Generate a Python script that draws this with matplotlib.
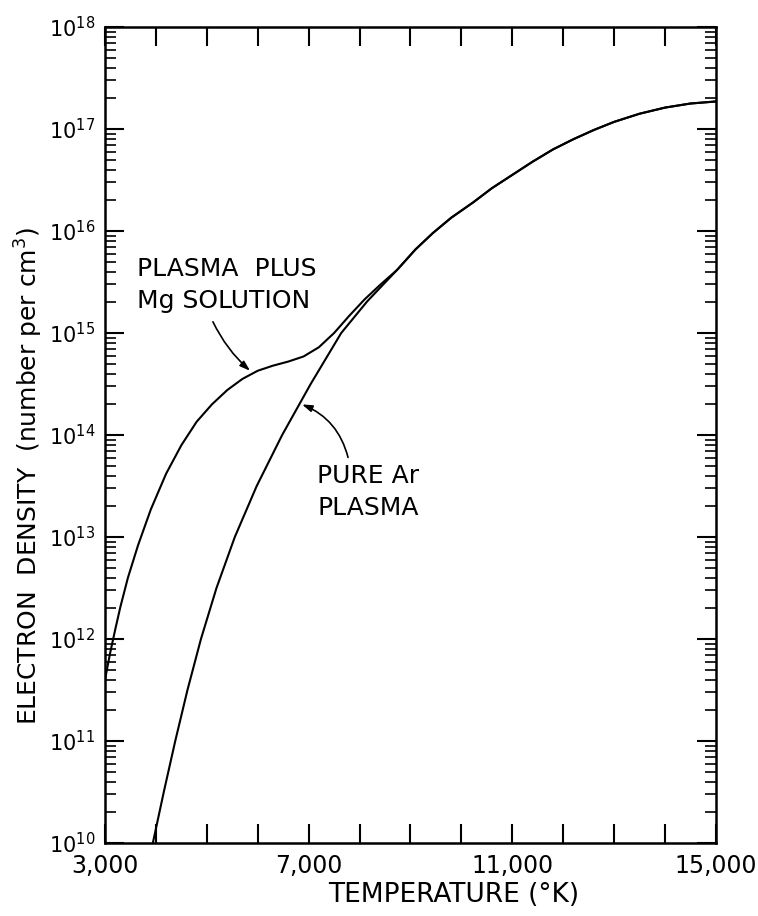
import numpy as np
import matplotlib
matplotlib.use("Agg")
import matplotlib.pyplot as plt
from matplotlib.ticker import LogLocator, FixedLocator, FixedFormatter, NullFormatter

# temperature (deg K) and log10 of electron density (per cm^3)
t_ar = [3940, 4155, 4380, 4620, 4885, 5190, 5550, 5980, 6480, 7040, 7640, 8150]
logn_ar = [10.0, 10.5, 11.0, 11.5, 12.0, 12.5, 13.0, 13.5, 14.0, 14.5, 15.0, 15.31]

t_mg = [3000, 3100, 3200, 3300, 3450, 3650, 3900, 4200, 4500, 4800, 5100,
        5400, 5700, 6000, 6300, 6600, 6900, 7200, 7500, 7800, 8100, 8400]
logn_mg = [11.60, 11.86, 12.09, 12.31, 12.60, 12.92, 13.27, 13.62, 13.90,
           14.13, 14.30, 14.44, 14.55, 14.63, 14.68, 14.72, 14.77, 14.86,
           15.00, 15.17, 15.33, 15.47]

# above ~8,700 K both curves coincide
t_common = [8740, 9100, 9440, 9800, 10230, 10600, 11000, 11400, 11800, 12200,
            12600, 13000, 13500, 14000, 14500, 15000]
logn_common = [15.62, 15.82, 15.98, 16.13, 16.28, 16.42, 16.55, 16.68, 16.80,
               16.90, 16.99, 17.07, 17.15, 17.21, 17.25, 17.27]

x_ticks = [3000, 4000, 5000, 6000, 7000, 8000, 9000, 10000, 11000, 12000,
           13000, 14000, 15000]
x_labels = ["3,000", "", "", "", "7,000", "", "", "", "11,000", "", "", "",
            "15,000"]

fig = plt.figure(figsize=(7.58, 9.16), dpi=100)
ax = fig.add_axes([0.1385, 0.0797, 0.806, 0.8908])

ax.plot(t_ar + t_common, 10 ** np.array(logn_ar + logn_common), color="black", lw=1.5)
ax.plot(t_mg + t_common, 10 ** np.array(logn_mg + logn_common), color="black", lw=1.5)

ax.set_yscale("log")
ax.set_xlim(3000, 15000)
ax.set_ylim(1e10, 1e18)

ax.xaxis.set_major_locator(FixedLocator(x_ticks))
ax.xaxis.set_major_formatter(FixedFormatter(x_labels))
ax.yaxis.set_major_locator(LogLocator(base=10, numticks=20))
ax.yaxis.set_minor_locator(LogLocator(base=10, subs=np.arange(2, 10), numticks=20))
ax.yaxis.set_minor_formatter(NullFormatter())

ax.tick_params(which="both", direction="in", top=True, right=True, width=1.5)
ax.tick_params(which="major", length=14)
ax.tick_params(axis="x", which="major", pad=8, labelsize=17)
ax.tick_params(axis="y", which="major", pad=7, labelsize=15)
ax.tick_params(which="minor", length=8, width=1.2)
for s in ax.spines.values():
    s.set_linewidth(1.8)

ax.set_xlabel("TEMPERATURE (\u00b0K)", fontsize=19)
ax.xaxis.set_label_coords(0.57, -0.048)
ax.set_ylabel("ELECTRON  DENSITY  (number per cm$^3$)", fontsize=18)
ax.yaxis.set_label_coords(-0.098, 0.45)

arrow = dict(arrowstyle="-|>,head_length=0.6,head_width=0.2", color="black",
             lw=1.2, shrinkA=0, shrinkB=0)

ax.text(3630, 10 ** 15.47, "PLASMA  PLUS\nMg SOLUTION", fontsize=18,
        ha="left", va="center", linespacing=1.45)
ax.annotate("", xy=(5850, 10 ** 14.63), xytext=(5120, 10 ** 15.11),
            arrowprops=dict(arrow, connectionstyle="arc3,rad=0.1"))

ax.text(7165, 10 ** 13.44, "PURE Ar\nPLASMA", fontsize=18,
        ha="left", va="center", linespacing=1.45)
ax.annotate("", xy=(6870, 10 ** 14.3), xytext=(7774, 10 ** 13.78),
            arrowprops=dict(arrow, connectionstyle="arc3,rad=0.25"))

fig.savefig("out.png", dpi=100)
